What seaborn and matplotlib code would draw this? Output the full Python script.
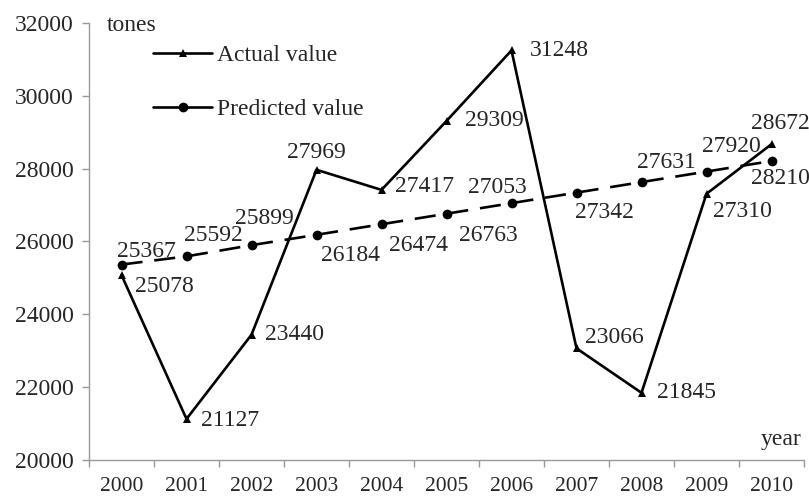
import numpy as np
import matplotlib
matplotlib.use("Agg")
import matplotlib.pyplot as plt
from matplotlib.lines import Line2D
import seaborn as sns
import pandas as pd

fs = 17
ls = 15.5

years = [2000, 2001, 2002, 2003, 2004, 2005, 2006, 2007, 2008, 2009, 2010]
actual = [25078, 21127, 23440, 27969, 27417, 29309, 31248, 23066, 21845, 27310, 28672]
predicted = [25367, 25592, 25899, 26184, 26474, 26763, 27053, 27342, 27631, 27920, 28210]
yticks = [20000, 22000, 24000, 26000, 28000, 30000, 32000]

# label offsets in pixels (dx, dy down, ha)
act_off = [(14, 11, 'left'), (15, 2, 'left'), (14, 0, 'left'), (0, -17, 'center'),
           (13, -3, 'left'), (18, 0, 'left'), (18, 0, 'left'), (8, -11, 'left'),
           (16, 0, 'left'), (7, 18, 'left'), (-20, -21, 'left')]
pred_off = [(25, -13, 'center'), (27, -21, 'center'), (13, -27, 'center'), (34, 21, 'center'),
            (37, 21, 'center'), (42, 22, 'center'), (-14, -16, 'center'), (28, 20, 'center'),
            (25, -20, 'center'), (25, -25, 'center'), (-20, 17, 'left')]

df = pd.DataFrame({'year': years, 'Actual value': actual, 'Predicted value': predicted})

sns.set_style("white")
plt.rcParams['font.family'] = ['Liberation Serif', 'DejaVu Serif']

fig = plt.figure(figsize=(8.09, 4.99), dpi=100)
ax = fig.add_axes([89/809, 39/499, 715/809, 437/499])

sns.lineplot(data=df, x='year', y='Actual value', ax=ax, color='black', linewidth=1.9,
             marker='^', markersize=6, markeredgewidth=0)
sns.lineplot(data=df, x='year', y='Predicted value', ax=ax, color='black', linewidth=1.9,
             marker='o', markersize=7, markeredgewidth=0, dashes=False)
ax.lines[1].set_dashes([8, 4.5])

for i in range(len(years)):
    dx, dy, ha = act_off[i]
    ax.annotate(str(actual[i]), (years[i], actual[i]), xytext=(dx, -dy),
                textcoords='offset pixels', ha=ha, va='center', fontsize=fs,
                annotation_clip=False)
    dx, dy, ha = pred_off[i]
    ax.annotate(str(predicted[i]), (years[i], predicted[i]), xytext=(dx, -dy),
                textcoords='offset pixels', ha=ha, va='center', fontsize=fs,
                annotation_clip=False)

ax.set_xlim(years[0] - 0.5, years[-1] + 0.5)
ax.set_ylim(yticks[0], yticks[-1])
ax.set_yticks(yticks)
ax.set_yticklabels([str(v) for v in yticks], fontsize=fs)

# ticks between categories, labels in the middle
ax.set_xticks([y - 0.5 for y in years] + [years[-1] + 0.5])
ax.set_xticklabels([])
ax.set_xticks(years, minor=True)
ax.set_xticklabels([str(y) for y in years], minor=True, fontsize=ls)
ax.tick_params(axis='x', which='minor', length=0, pad=12)
ax.tick_params(axis='both', which='major', length=5, width=1, color='#999999',
               direction='out', left=True, bottom=True)
ax.tick_params(axis='y', pad=6)

ax.set_xlabel('')
ax.set_ylabel('')
sns.despine(ax=ax)
for s in ['left', 'bottom']:
    ax.spines[s].set_color('#999999')
    ax.spines[s].set_linewidth(1)

ax.text(0.025, 0.995, 'tones', transform=ax.transAxes, fontsize=fs, ha='left', va='center')
ax.text(0.997, 0.046, 'year', transform=ax.transAxes, fontsize=fs, ha='right', va='center')

handles = [Line2D([], [], color='black', lw=1.9, marker='^', markersize=6, markeredgewidth=0),
           Line2D([], [], color='black', lw=1.9, marker='o', markersize=7, markeredgewidth=0)]
ax.legend(handles, ['Actual value', 'Predicted value'], loc='upper left',
          bbox_to_anchor=(0.0895, 0.95), frameon=False, fontsize=fs,
          handlelength=2.5, handletextpad=0.2, labelspacing=1.35,
          borderpad=0, borderaxespad=0)

fig.savefig('out.png', dpi=100)
